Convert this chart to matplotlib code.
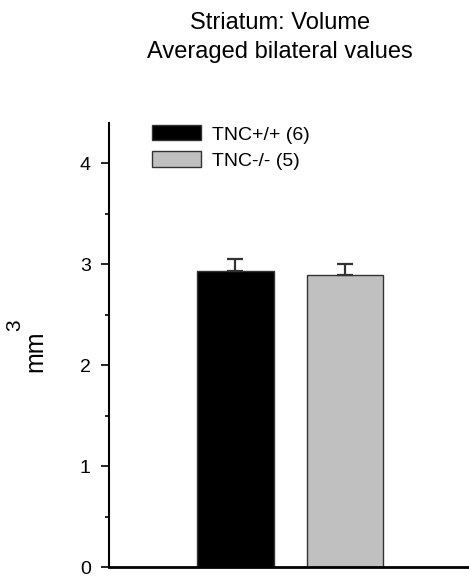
import numpy as np
import matplotlib
matplotlib.use("Agg")
import matplotlib.pyplot as plt
from matplotlib.ticker import MultipleLocator

plt.rcParams['font.family'] = ['Liberation Sans', 'DejaVu Sans']

groups = ["TNC+/+ (6)", "TNC-/- (5)"]
means = [2.93, 2.89]
errors = [0.12, 0.11]
colors = ["black", "#c0c0c0"]

fig = plt.figure(figsize=(4.69, 5.76), dpi=100)
ax = fig.add_axes([0.232, 0.0156, 0.768, 0.771])

x = np.array([1, 2])
for xi, m, e, c, lab in zip(x, means, errors, colors, groups):
    ax.bar(xi, m, width=0.7, color=c, edgecolor="#333333", linewidth=1, label=lab)
    ax.errorbar(xi, m, yerr=[[0], [e]], fmt="none", ecolor="#333333",
                elinewidth=1.6, capsize=6, capthick=1.6)

ax.set_xlim(-0.153, 3.13)
ax.set_ylim(0, 4.4)
ax.yaxis.set_major_locator(MultipleLocator(1))
ax.yaxis.set_minor_locator(MultipleLocator(0.5))
ax.set_xticks([])
ax.tick_params(axis="y", which="major", length=6, width=1.2, labelsize=14, pad=7)
ax.tick_params(axis="y", which="minor", length=3, width=1.2)
for s in ["top", "right"]:
    ax.spines[s].set_visible(False)
ax.spines["left"].set_linewidth(1.5)
ax.spines["bottom"].set_linewidth(2)

# y label: "mm" with a raised superscript 3
fig.text(0.0896, 0.39, "mm", fontsize=18, rotation=90, rotation_mode="anchor",
         ha="center", va="baseline")
fig.text(0.043, 0.436, "3", fontsize=15, rotation=90, rotation_mode="anchor",
         ha="center", va="baseline")

fig.text(0.597, 0.98, "Striatum: Volume\nAveraged bilateral values",
         ha="center", va="top", fontsize=17, linespacing=1.45)

ax.legend(loc="upper left", bbox_to_anchor=(0.12, 0.995), frameon=False,
          fontsize=14, handlelength=2.5, handleheight=0.83, handletextpad=0.6,
          labelspacing=0.4, borderaxespad=0, borderpad=0)

fig.savefig("out.png", dpi=100)
